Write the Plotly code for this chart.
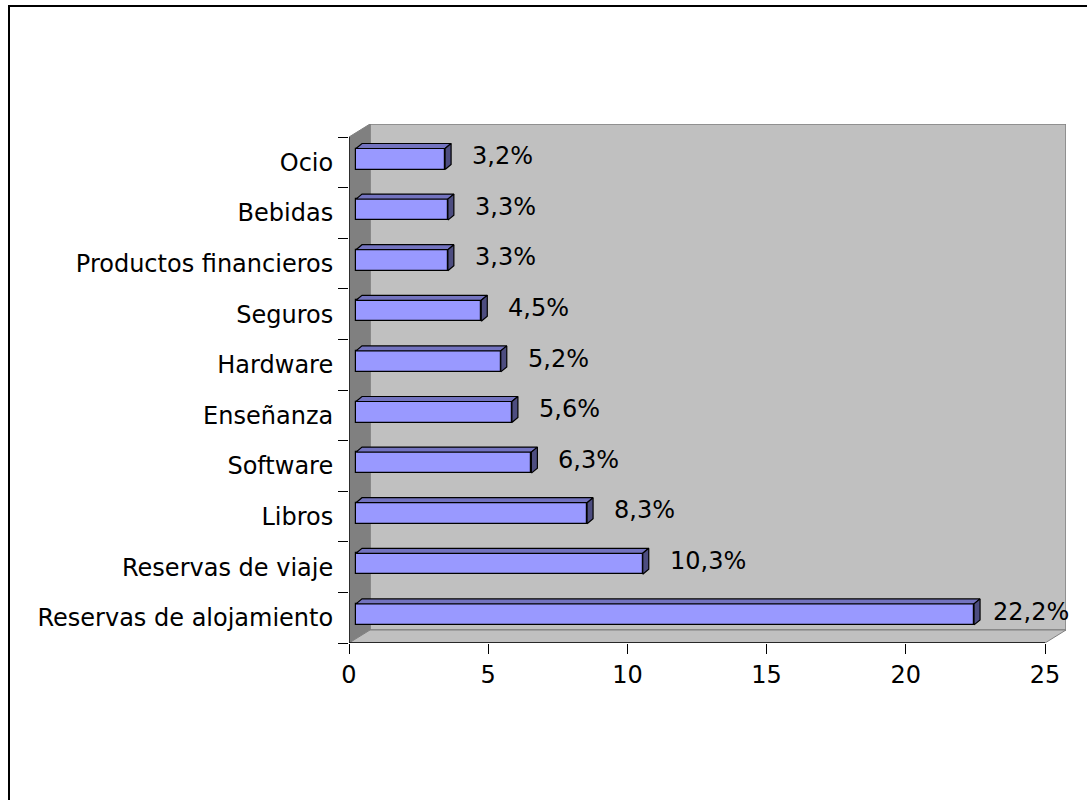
import plotly.graph_objects as go

categories = ["Reservas de alojamiento", "Reservas de viaje", "Libros", "Software",
              "Enseñanza", "Hardware", "Seguros", "Productos financieros", "Bebidas", "Ocio"]
values = [22.2, 10.3, 8.3, 6.3, 5.6, 5.2, 4.5, 3.3, 3.3, 3.2]
value_labels = ["22,2%", "10,3%", "8,3%", "6,3%", "5,6%", "5,2%", "4,5%", "3,3%", "3,3%", "3,2%"]
x_ticks = [0, 5, 10, 15, 20, 25]

W, H = 1087, 800
L, R, T, B = 349, 1066, 124, 643          # plot area in pixels
XMAX_AXIS = 25
ux = (1045 - L) / XMAX_AXIS                # px per x unit
x_range = [0, (R - L) / ux]
n = len(categories)
uy = (B - 137) / n                         # px per category
y_range = [-0.5, n - 0.5 + (137 - T) / uy]
PX, PY = 1 / ux, 1 / uy

FONT = "DejaVu Sans"
FS = 24

# 3D geometry (pixel offsets converted to data units)
WX, WY = 21 * PX, 13 * PY      # wall depth
B0 = 7 * PX                    # bar start offset
DX, DY = 6 * PX, 5 * PY        # bar depth
BH = 21 * PY                   # bar front height
BSHIFT = 3.3 * PY              # bar front center shift up

pos = list(range(n))

fig = go.Figure()

# front faces
fig.add_trace(go.Bar(
    x=values, y=pos, base=B0, orientation="h",
    width=BH, offset=-BH / 2 + BSHIFT,
    marker=dict(color="#9999FF", line=dict(color="black", width=1.2)),
    hoverinfo="skip", showlegend=False))

# top and side faces
top_x, top_y, side_x, side_y = [], [], [], []
for p, v in zip(pos, values):
    yb = p + BSHIFT - BH / 2
    yt = p + BSHIFT + BH / 2
    xe = B0 + v
    top_x += [B0, xe, xe + DX, B0 + DX, B0, None]
    top_y += [yt, yt, yt + DY, yt + DY, yt, None]
    side_x += [xe, xe, xe + DX, xe + DX, xe, None]
    side_y += [yb, yt, yt + DY, yb + DY, yb, None]
fig.add_trace(go.Scatter(x=top_x, y=top_y, mode="lines", fill="toself",
                         fillcolor="#7373BF", line=dict(color="black", width=1.2),
                         hoverinfo="skip", showlegend=False))
fig.add_trace(go.Scatter(x=side_x, y=side_y, mode="lines", fill="toself",
                         fillcolor="#4D4D80", line=dict(color="black", width=1.2),
                         hoverinfo="skip", showlegend=False))

shapes = []
# back wall
shapes.append(dict(type="rect", xref="x", yref="y", layer="below",
                   x0=WX, x1=XMAX_AXIS + WX, y0=-0.5 + WY, y1=n - 0.5 + WY,
                   fillcolor="#C0C0C0", line=dict(color="#808080", width=1.5)))
# side wall
shapes.append(dict(type="path", xref="x", yref="y", layer="below",
                   path=f"M0,-0.5 L{WX},{-0.5 + WY} L{WX},{n - 0.5 + WY} L0,{n - 0.5} Z",
                   fillcolor="#808080", line=dict(color="#808080", width=1)))
# floor
shapes.append(dict(type="path", xref="x", yref="y", layer="below",
                   path=f"M0,-0.5 L{XMAX_AXIS},-0.5 L{XMAX_AXIS + WX},{-0.5 + WY} L{WX},{-0.5 + WY} Z",
                   fillcolor="#C0C0C0", line=dict(color="#808080", width=1)))
# axis lines
shapes.append(dict(type="line", xref="x", yref="y", x0=0, x1=XMAX_AXIS, y0=-0.5, y1=-0.5,
                   line=dict(color="black", width=1.3)))
shapes.append(dict(type="line", xref="x", yref="y", x0=0, x1=0, y0=-0.5, y1=n - 0.5,
                   line=dict(color="black", width=1.3)))
# outer chart border
def pxx(p):
    return (p - L) / (R - L)
def pxy(p):
    return (B - p) / (B - T)
shapes.append(dict(type="rect", xref="paper", yref="paper",
                   x0=pxx(9), x1=pxx(1120), y0=pxy(6), y1=pxy(830),
                   line=dict(color="black", width=2), fillcolor="rgba(0,0,0,0)"))

annotations = []
for p, v, t in zip(pos, values, value_labels):
    left_px = L + (B0 + v + DX) * ux + 19
    est_w = 15 * len(t)
    if left_px + est_w > R:
        left_px = R - est_w
    annotations.append(dict(x=(left_px - L) / ux, y=p + BSHIFT + DY / 2 + 0.3 * PY,
                            xref="x", yref="y", text=t, showarrow=False,
                            xanchor="left", yanchor="middle",
                            font=dict(family=FONT, size=FS, color="black")))

fig.update_layout(
    width=W, height=H,
    margin=dict(l=L, r=W - R, t=T, b=H - B),
    paper_bgcolor="white", plot_bgcolor="white",
    font=dict(family=FONT, size=FS, color="black"),
    shapes=shapes, annotations=annotations,
    bargap=0,
    xaxis=dict(range=x_range, tickvals=x_ticks, ticktext=[str(v) for v in x_ticks],
               ticks="outside", ticklen=10, tickcolor="black", tickwidth=1,
               showgrid=False, zeroline=False, showline=False, fixedrange=True,
               tickfont=dict(family=FONT, size=FS)),
    yaxis=dict(range=y_range, tickvals=pos, ticktext=categories,
               ticks="outside", ticklen=10, tickcolor="rgba(0,0,0,0)",
               minor=dict(tickmode="array", tickvals=[p - 0.5 for p in pos] + [n - 0.5],
                          ticks="outside", ticklen=10, tickcolor="black", tickwidth=1,
                          showgrid=False),
               showgrid=False, zeroline=False, showline=False, fixedrange=True,
               tickfont=dict(family=FONT, size=FS)),
)

fig.write_html("out.html")
